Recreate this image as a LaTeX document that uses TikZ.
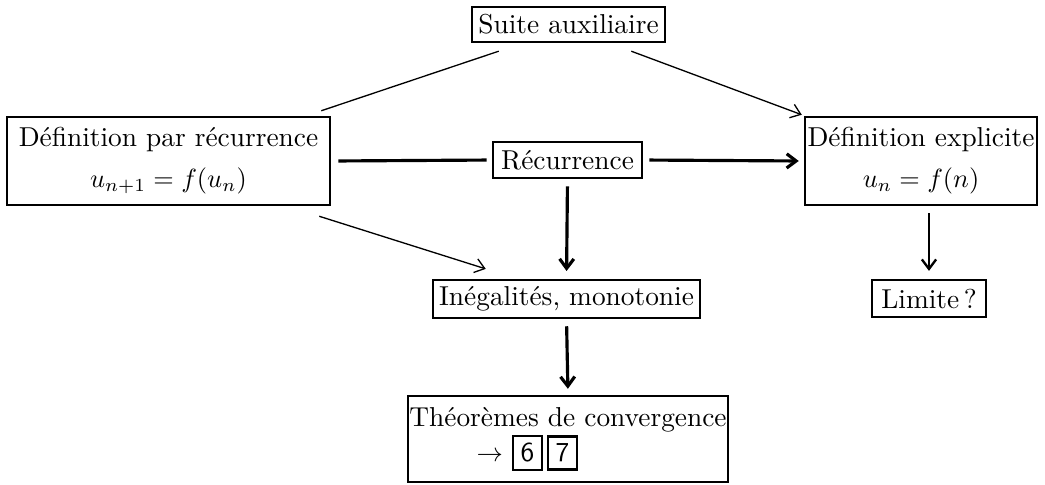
\documentclass[tikz,border=0pt]{standalone}
\usepackage{fontspec}
\usepackage{amsmath}
\usetikzlibrary{arrows,arrows.meta,calc}
\setlength{\fboxrule}{0.8pt}
\setlength{\fboxsep}{2.4pt}
\newcommand{\cadre}[1]{\fbox{\sffamily #1}}
\tikzset{>={Straight Barb[length=3.6pt, width=5.4pt]}}

\begin{document}
\begin{tikzpicture}[x=0.38pt, y=-0.38pt,
  box/.style = {draw, line width=0.9pt, inner sep=0pt, align=center,
    font=\fontsize{10.4pt}{12.5pt}\selectfont},
  fin/.style = {line width=0.5pt},
  gros/.style = {line width=1.2pt}]
  \useasboundingbox (0,0) rectangle (1045,484);

  \node[box, minimum width=73.4pt, minimum height=13.3pt](sa) at (568.5,24.5){Suite auxiliaire};
  \node[box, minimum width=122.8pt, minimum height=33.5pt](dr) at (168.5,161){D\'efinition par r\'ecurrence\\[3pt] $u_{n+1}=f(u_n)$};
  \node[box, minimum width=56.7pt, minimum height=13.7pt](rec) at (567.5,160){R\'ecurrence};
  \node[box, minimum width=88.2pt, minimum height=33.5pt](de) at (921,161){D\'efinition explicite\\[3pt] $u_n=f(n)$};
  \node[box, minimum width=101.5pt, minimum height=14.4pt](ineg) at (566.5,299){In\'egalit\'es, monotonie};
  \node[box, minimum width=43.3pt, minimum height=14.1pt](lim) at (929,298.5){Limite\,?};
  \node[box, minimum width=121.7pt, minimum height=32.7pt](th) at (568,439){Th\'eor\`emes de convergence\\[1pt] $\to$ \cadre{6}\,\cadre{7}\hspace*{31pt}};

  \path
  ($(sa.south west)+(28,8)$) edge[fin] ($(dr.north east)+(-10,-5)$)
  ($(sa.south east)+(-35,8)$) edge[fin, ->] ($(de.north west)+(-2,-1)$)
  (dr.east) edge[gros, shorten <=2.7pt, shorten >=1.9pt] (rec.west)
  (rec.east) edge[gros, ->, shorten <=2.3pt, shorten >=1.9pt] (de.west)
  (rec.south) edge[gros, ->, shorten <=2.7pt, shorten >=3pt] (ineg.north)
  ($(dr.south east)+(-12,10)$) edge[fin, ->] ($(ineg.north west)+(54,-10)$)
  (lim.north |- de.south) edge[line width=0.9pt, ->, shorten <=2.7pt, shorten >=3pt] (lim.north)
  (ineg.south) edge[gros, ->, shorten <=2.7pt, shorten >=2.3pt] (th.north)
  ;
\end{tikzpicture}
\end{document}
